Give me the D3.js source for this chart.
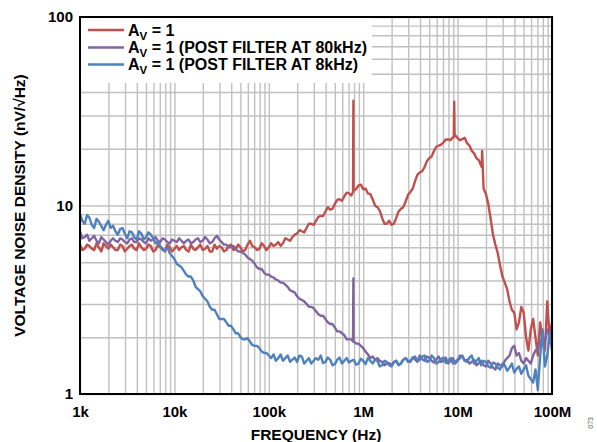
<!DOCTYPE html>
<html><head><meta charset="utf-8">
<script src="https://cdn.jsdelivr.net/npm/d3@7"></script>
<style>body{margin:0;background:#fff}svg{display:block}</style>
</head><body><svg id="c" width="597" height="442"></svg>
<script>
// Frequencies (Hz), 20 per decade
const freqs = [
 1e3,1.122e3,1.259e3,1.413e3,1.585e3,1.778e3,1.995e3,2.239e3,2.512e3,2.818e3,
 3.162e3,3.548e3,3.981e3,4.467e3,5.012e3,5.623e3,6.310e3,7.079e3,7.943e3,8.913e3,
 1e4,1.122e4,1.259e4,1.413e4,1.585e4,1.778e4,1.995e4,2.239e4,2.512e4,2.818e4,
 3.162e4,3.548e4,3.981e4,4.467e4,5.012e4,5.623e4,6.310e4,7.079e4,7.943e4,8.913e4,
 1e5,1.122e5,1.259e5,1.413e5,1.585e5,1.778e5,1.995e5,2.239e5,2.512e5,2.818e5,
 3.162e5,3.548e5,3.981e5,4.467e5,5.012e5,5.623e5,6.310e5,7.079e5,7.943e5,8.913e5,
 1e6,1.122e6,1.259e6,1.413e6,1.585e6,1.778e6,1.995e6,2.239e6,2.512e6,2.818e6,
 3.162e6,3.548e6,3.981e6,4.467e6,5.012e6,5.623e6,6.310e6,7.079e6,7.943e6,8.913e6,
 1e7,1.122e7,1.259e7,1.413e7,1.585e7,1.778e7,1.995e7,2.239e7,2.512e7,2.818e7,
 3.162e7,3.548e7,3.981e7,4.467e7,5.012e7,5.623e7,6.310e7,7.079e7,7.943e7,8.913e7,
 1e8
];
// In-between frequencies (Hz)
const freqsMid = [
 1.059e3,1.189e3,1.334e3,1.496e3,1.679e3,1.884e3,2.113e3,2.371e3,2.661e3,2.985e3,
 3.350e3,3.758e3,4.217e3,4.732e3,5.309e3,5.957e3,6.683e3,7.499e3,8.414e3,9.441e3,
 1.059e4,1.189e4,1.334e4,1.496e4,1.679e4,1.884e4,2.113e4,2.371e4,2.661e4,2.985e4,
 3.350e4,3.758e4,4.217e4,4.732e4,5.309e4,5.957e4,6.683e4,7.499e4,8.414e4,9.441e4,
 1.059e5,1.189e5,1.334e5,1.496e5,1.679e5,1.884e5,2.113e5,2.371e5,2.661e5,2.985e5,
 3.350e5,3.758e5,4.217e5,4.732e5,5.309e5,5.957e5,6.683e5,7.499e5,8.414e5,9.441e5,
 1.059e6,1.189e6,1.334e6,1.496e6,1.679e6,1.884e6,2.113e6,2.371e6,2.661e6,2.985e6,
 3.350e6,3.758e6,4.217e6,4.732e6,5.309e6,5.957e6,6.683e6,7.499e6,8.414e6,9.441e6,
 1.059e7,1.189e7,1.334e7,1.496e7,1.679e7,1.884e7,2.113e7,2.371e7,2.661e7,2.985e7,
 3.350e7,3.758e7,4.217e7,4.732e7,5.309e7,5.957e7,6.683e7,7.499e7,8.414e7,9.441e7
];
// A_V = 1
const redVals = [
 6.2,5.9,6.1,5.8,6.0,6.3,5.9,6.0,5.8,6.1,
 5.9,6.2,5.8,6.0,5.9,6.1,5.8,6.0,5.7,6.0,
 5.9,5.8,6.1,5.7,5.9,6.0,5.8,6.1,5.7,5.9,
 6.0,5.8,6.2,5.9,6.0,5.8,6.5,6.0,5.9,6.1,
 6.0,6.1,6.4,6.3,6.6,6.8,7.1,7.3,7.6,8.0,
 8.3,8.8,9.3,9.5,10.2,10.8,11.2,11.6,12.0,12.8,
 12.2,11.6,10.8,9.8,8.6,8.0,7.9,8.6,9.6,10.5,
 11.8,13.5,15.0,16.0,17.8,19.5,20.8,21.6,22.4,23.0,
 22.8,22.5,21.4,19.5,17.8,16.2,11.5,8.5,6.2,4.8,
 3.9,3.1,2.7,2.4,2.7,1.7,2.5,1.6,1.9,3.1,
 2.4
];
const redMid = [
 5.8,6.2,5.9,6.3,5.7,6.1,6.2,5.8,6.2,5.7,
 6.1,5.9,6.3,5.8,6.2,5.7,6.2,5.9,6.2,5.7,
 6.1,6.0,5.8,6.2,5.8,6.2,5.9,5.7,6.2,6.1,
 5.7,6.1,5.8,6.2,5.7,6.2,6.1,5.8,6.3,5.8,
 6.3,6.2,6.1,6.7,6.5,7.0,7.4,7.2,8.0,7.9,
 8.7,8.8,9.8,9.6,10.7,10.6,11.7,11.3,12.2,12.9,
 12.3,11.5,10.0,9.4,8.0,8.3,8.0,9.3,9.8,11.4,
 12.3,14.6,15.2,17.2,18.2,20.5,21.0,22.4,22.2,23.6,
 22.2,22.9,20.8,18.9,17.4,12.3,10.2,7.0,5.6,4.2,
 3.6,2.8,2.2,2.9,2.0,2.2,2.0,2.4,1.7,2.0
];
// A_V = 1 (post filter at 80 kHz)
const purpleVals = [
 7.3,6.8,6.5,6.9,6.3,6.6,6.2,6.7,6.4,6.6,
 6.3,6.7,6.4,6.6,6.3,6.5,6.8,6.4,6.6,6.3,
 6.5,6.7,6.3,6.6,6.4,6.7,6.5,6.6,6.4,6.9,
 6.4,6.2,6.0,5.9,5.7,5.5,5.2,4.9,4.6,4.4,
 4.3,4.15,4.0,3.9,3.7,3.5,3.3,3.15,3.0,2.9,
 2.75,2.6,2.5,2.35,2.25,2.15,2.05,1.95,1.9,1.85,
 1.75,1.62,1.58,1.55,1.48,1.45,1.42,1.5,1.45,1.55,
 1.48,1.52,1.6,1.5,1.55,1.47,1.58,1.5,1.45,1.55,
 1.5,1.6,1.52,1.48,1.42,1.5,1.4,1.45,1.35,1.42,
 1.5,1.6,1.8,1.65,1.45,1.5,1.6,1.75,2.0,2.2,
 1.9
];
const purpleMid = [
 6.7,7.0,6.7,6.5,6.8,6.4,6.5,6.5,6.7,6.4,
 6.6,6.4,6.7,6.4,6.7,6.6,6.5,6.7,6.4,6.6,
 6.4,6.5,6.5,6.3,6.6,6.4,6.8,6.3,6.7,6.6,
 6.2,6.0,6.1,5.7,5.6,5.3,5.1,4.7,4.6,4.3,
 4.2,4.05,3.9,3.8,3.55,3.45,3.2,3.1,2.9,2.85,
 2.65,2.6,2.4,2.35,2.15,2.1,1.95,1.95,1.85,1.8,
 1.68,1.55,1.52,1.5,1.42,1.46,1.48,1.43,1.52,1.5,
 1.56,1.48,1.53,1.58,1.5,1.53,1.48,1.56,1.5,1.45,
 1.55,1.5,1.45,1.52,1.46,1.42,1.5,1.38,1.45,1.4,
 1.55,1.75,1.6,1.5,1.55,1.45,1.7,1.85,1.9,2.05
];
// A_V = 1 (post filter at 8 kHz)
const blueVals = [
 9.0,8.0,8.6,7.6,8.2,7.4,8.3,7.8,7.0,7.6,
 6.7,7.2,6.6,7.1,6.8,7.0,6.3,6.1,5.8,5.6,
 5.2,4.8,4.5,4.2,4.0,3.6,3.3,3.1,2.8,2.65,
 2.5,2.4,2.3,2.1,2.0,1.95,1.9,1.8,1.75,1.65,
 1.6,1.62,1.55,1.5,1.6,1.52,1.48,1.58,1.5,1.45,
 1.55,1.6,1.48,1.52,1.44,1.56,1.5,1.47,1.52,1.45,
 1.5,1.55,1.45,1.5,1.42,1.48,1.4,1.5,1.46,1.55,
 1.5,1.58,1.52,1.6,1.5,1.55,1.48,1.56,1.5,1.45,
 1.52,1.58,1.48,1.6,1.5,1.42,1.48,1.38,1.45,1.35,
 1.42,1.38,1.3,1.4,1.35,1.25,1.15,1.05,2.2,1.6,
 1.7
];
const blueMid = [
 8.3,8.9,7.9,8.5,7.8,7.9,7.6,7.3,7.5,7.1,
 7.3,6.8,7.3,6.6,7.2,6.7,6.4,5.8,6.0,5.4,
 4.9,4.7,4.3,4.2,3.7,3.5,3.2,2.9,2.8,2.5,
 2.5,2.3,2.2,2.1,1.95,1.98,1.82,1.8,1.68,1.65,
 1.55,1.5,1.62,1.55,1.48,1.56,1.6,1.45,1.55,1.5,
 1.52,1.46,1.56,1.42,1.52,1.45,1.55,1.5,1.43,1.54,
 1.44,1.5,1.52,1.4,1.5,1.42,1.47,1.42,1.52,1.48,
 1.56,1.5,1.58,1.48,1.6,1.45,1.53,1.46,1.55,1.48,
 1.6,1.5,1.56,1.45,1.55,1.5,1.4,1.47,1.38,1.45,
 1.33,1.45,1.36,1.28,1.42,1.2,1.35,1.6,1.4,2.1
];
// narrow spurs: [frequency, value]
const redSpikes = [[7.80e5,11.8],[7.87e5,36],[7.92e5,12.0],[9.1e6,23.0],[9.2e6,35.5],[9.3e6,23.2],[1.80e7,16.0],[1.82e7,19.5]];
const purpleSpikes = [[7.80e5,1.9],[7.87e5,4.1],[7.92e5,1.9]];
const blueSpikes = [];

const seriesLabels = ["1","1 (POST FILTER AT 80kHz)","1 (POST FILTER AT 8kHz)"];
const seriesColors = ["#c0504d","#8064a2","#4f81bd"];
const xTickValues = [1e3,1e4,1e5,1e6,1e7,1e8];
const xTickLabels = ["1k","10k","100k","1M","10M","100M"];
const yTickValues = [1,10,100];
const yTickLabels = ["1","10","100"];
const xTitle = "FREQUENCY (Hz)";
const yTitle = "VOLTAGE NOISE DENSITY (nV/\u221AHz)";
const figId = "073";

const m = {left: 80, top: 17, right: 552, bottom: 394};
const svg = d3.select("#c");
const font = "'Liberation Sans', Arial, sans-serif";

const x = d3.scaleLog().domain([1e3,1e8]).range([m.left, m.right]);
const y = d3.scaleLog().domain([1,100]).range([m.bottom, m.top]);

// grid
const gridColor = "#c0c0c0";
const gx = svg.append("g").attr("transform", `translate(0,${m.bottom})`)
  .call(d3.axisBottom(x).tickValues(x.ticks()).tickSize(-(m.bottom - m.top)).tickFormat(""));
const gy = svg.append("g").attr("transform", `translate(${m.left},0)`)
  .call(d3.axisLeft(y).tickValues(y.ticks()).tickSize(-(m.right - m.left)).tickFormat(""));
[gx, gy].forEach(g => {
  g.select(".domain").remove();
  g.selectAll("line").attr("stroke", gridColor).attr("stroke-width", 1.4);
});

// series
const series = [
  {vals: redVals, mid: redMid, spikes: redSpikes},
  {vals: purpleVals, mid: purpleMid, spikes: purpleSpikes},
  {vals: blueVals, mid: blueMid, spikes: blueSpikes}
];
const line = d3.line().x(d => x(d[0])).y(d => y(d[1]));
svg.append("clipPath").attr("id","pc").append("rect")
  .attr("x", m.left).attr("y", m.top).attr("width", m.right - m.left).attr("height", m.bottom - m.top);
series.forEach((s, i) => {
  const pts = freqs.map((f, k) => [f, s.vals[k]])
    .concat(freqsMid.map((f, k) => [f, s.mid[k]]))
    .concat(s.spikes).sort((a, b) => a[0] - b[0]);
  svg.append("path").datum(pts).attr("d", line).attr("fill", "none")
    .attr("stroke", seriesColors[i]).attr("stroke-width", 2.4)
    .attr("stroke-linejoin", "round").attr("clip-path", "url(#pc)");
});

// legend
svg.append("rect").attr("x", m.left + 1).attr("y", m.top + 1).attr("width", 291).attr("height", 65).attr("fill", "#fff");
const legY = [30, 47.5, 64.5];
seriesLabels.forEach((lab, i) => {
  svg.append("line").attr("x1", 88).attr("x2", 124).attr("y1", legY[i]).attr("y2", legY[i])
    .attr("stroke", seriesColors[i]).attr("stroke-width", 2.6);
  const t = svg.append("text").attr("x", 128).attr("y", legY[i] + 5.5)
    .attr("font-family", font).attr("font-weight", "bold").attr("font-size", 16).attr("fill", "#000");
  t.append("tspan").text("A");
  t.append("tspan").attr("font-size", 11.5).attr("dy", 4).text("V");
  t.append("tspan").attr("dy", -4).text(" = " + lab);
});

// frame
svg.append("rect").attr("x", m.left).attr("y", m.top).attr("width", m.right - m.left).attr("height", m.bottom - m.top)
  .attr("fill", "none").attr("stroke", "#000").attr("stroke-width", 2);

// axes labels
const ax = svg.append("g").attr("transform", `translate(0,${m.bottom})`)
  .call(d3.axisBottom(x).tickValues(xTickValues).tickSize(0).tickPadding(12).tickFormat((d, i) => xTickLabels[i]));
ax.select(".domain").remove();
ax.selectAll("text").attr("font-family", font).attr("font-weight", "bold").attr("font-size", 15).attr("fill", "#000");
const ay = svg.append("g").attr("transform", `translate(${m.left},0)`)
  .call(d3.axisLeft(y).tickValues(yTickValues).tickSize(0).tickPadding(7).tickFormat((d, i) => yTickLabels[i]));
ay.select(".domain").remove();
ay.selectAll("text").attr("font-family", font).attr("font-weight", "bold").attr("font-size", 15).attr("fill", "#000");

svg.append("text").attr("x", (m.left + m.right) / 2).attr("y", 440).attr("text-anchor", "middle")
  .attr("font-family", font).attr("font-weight", "bold").attr("font-size", 15.5).text(xTitle);
svg.append("text").attr("transform", `translate(25,${(m.top + m.bottom) / 2}) rotate(-90)`).attr("text-anchor", "middle")
  .attr("font-family", font).attr("font-weight", "bold").attr("font-size", 15.5).text(yTitle);
svg.append("text").attr("transform", `translate(593,417) rotate(-90)`).attr("text-anchor", "end")
  .attr("font-family", font).attr("font-size", 7).attr("fill", "#555").text(figId);
</script></body></html>
